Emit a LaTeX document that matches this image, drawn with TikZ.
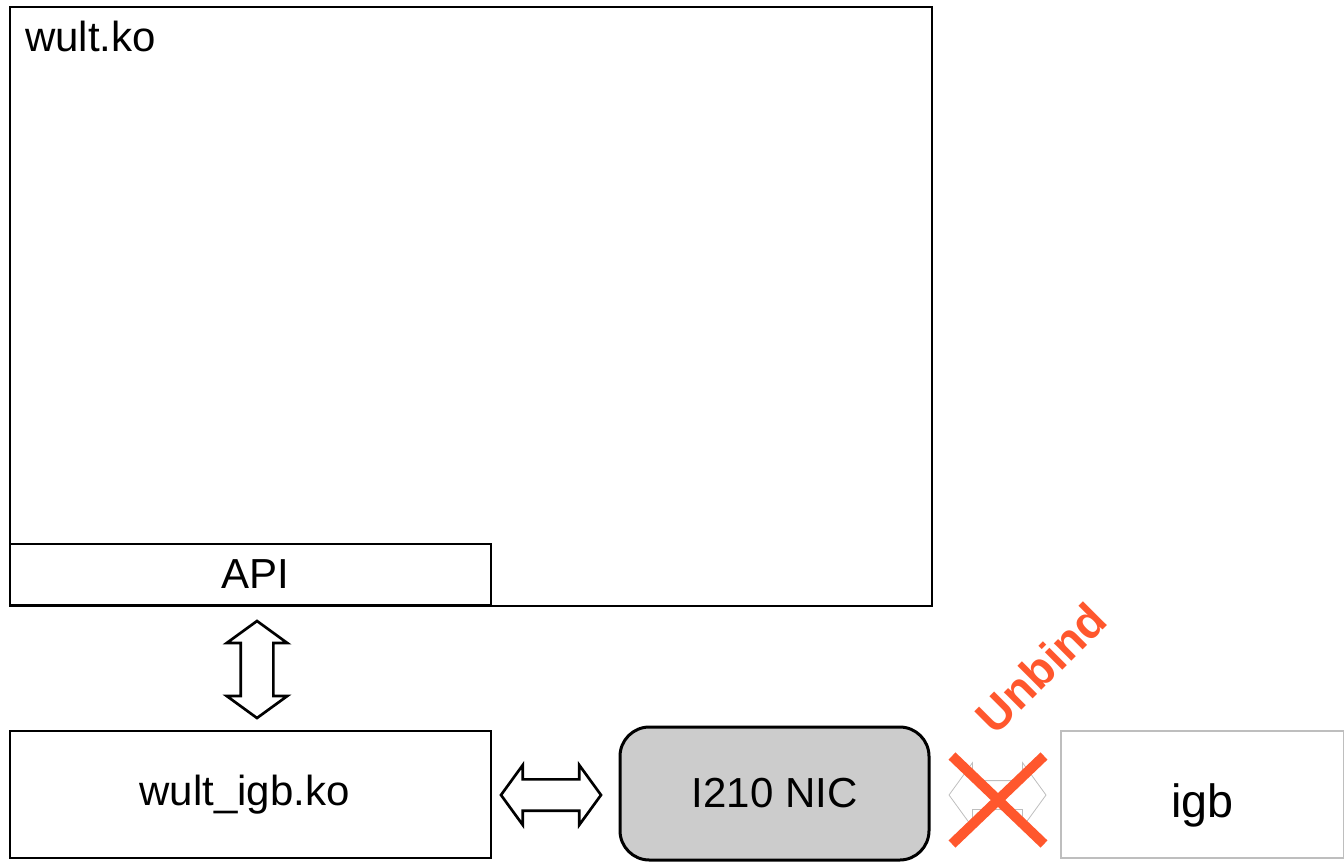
\documentclass[tikz,border=0pt]{standalone}
\usepackage{fontspec}
\setmainfont{Liberation Sans}
\usepackage{xcolor}
\usetikzlibrary{positioning,shapes.arrows}

\definecolor{unbindred}{RGB}{255,87,45}
\definecolor{nicgrey}{RGB}{204,204,204}
\definecolor{faintgrey}{RGB}{190,190,190}

\tikzset{
  modbox/.style={draw, line width=1pt, inner sep=0pt,
    font=\fontsize{31.5}{38}\selectfont},
  dblarrow/.style={double arrow, draw, line width=2pt, inner sep=0pt,
    double arrow tip angle=108, double arrow head extend=10.5pt},
}

\begin{document}
\begin{tikzpicture}[x=0.75pt, y=-0.75pt]
        \useasboundingbox (0,0) rectangle (1344,861);
        % kernel modules
        \node[modbox, minimum width=691.5pt, minimum height=449.25pt] (wult) at (471,306.5) {};
        \node[anchor=base west, inner sep=0pt, font=\fontsize{31.5}{38}\selectfont] (wulttitle) at (25,51) {wult.ko};
        \node[modbox, minimum width=360.75pt, minimum height=45.75pt] (api) at (250.5,574.5) {\hspace*{7.5pt}API};
        \node[modbox, minimum width=360.75pt, minimum height=95.25pt] (wultigb) at (250.5,794.5) {wult\_igb.ko\hspace*{9pt}};
        \node[modbox, line width=2.25pt, rounded corners=22pt, fill=nicgrey,
              minimum width=231.75pt, minimum height=99.75pt] (nic) at (774.5,793.5) {I210 NIC};
        \node[modbox, draw=faintgrey, minimum width=212.25pt, minimum height=95.25pt,
              text height=42pt, font=\fontsize{35}{42}\selectfont] (igb) at (1202.5,794.5) {igb};
        % links
        \node[dblarrow, minimum height=72.75pt, minimum width=43.5pt, shape border rotate=90,
              text width=22.5pt, text height=22.5pt] (apilink) at (257,669.5) {};
        \node[dblarrow, minimum height=75pt, minimum width=45pt,
              text height=21pt] (niclink) at (551,795) {};
        \node[dblarrow, draw=faintgrey, line width=0.6pt, minimum height=72.75pt, minimum width=48pt,
              double arrow head extend=13.5pt, text height=21pt] (igblink) at (997.5,795) {};
        % unbind mark
        \coordinate (xa) at (952,756);
        \coordinate (xb) at (1044,844);
        \coordinate (xc) at (1044,756);
        \coordinate (xd) at (952,844);
        \draw[unbindred, line width=7.5pt] (xa) -- (xb);
        \draw[unbindred, line width=7.5pt] (xc) -- (xd);
        \node[unbindred, rotate=45, inner sep=0pt, font=\bfseries\fontsize{35}{42}\selectfont] (unbind) at (1041,668) {Unbind};
    \end{tikzpicture}
\end{document}
